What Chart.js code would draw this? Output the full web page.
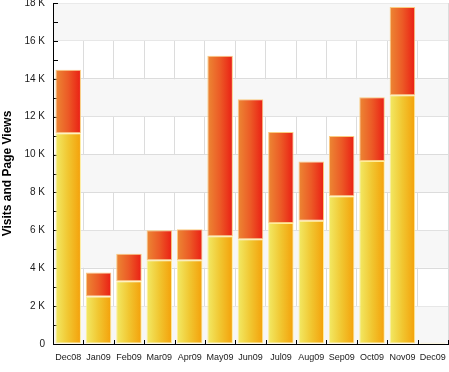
<!DOCTYPE html>
<html>
<head>
<meta charset="utf-8">
<script src="https://cdn.jsdelivr.net/npm/chart.js@4.4.1/dist/chart.umd.min.js"></script>
<style>
  html, body { margin:0; padding:0; background:#fff; }
  #wrap { width:449px; height:372px; position:relative; }
</style>
</head>
<body>
<div id="wrap"><canvas id="chart"></canvas></div>
<script>
// months on the x axis
const months = ['Dec08','Jan09','Feb09','Mar09','Apr09','May09','Jun09','Jul09','Aug09','Sep09','Oct09','Nov09','Dec09'];
// lower (yellow) segment
const visits = [11120, 2510, 3310, 4420, 4420, 5690, 5530, 6390, 6500, 7800, 9660, 13130, 60];
// upper (red) segment stacked on top
const pageViews = [3350, 1260, 1460, 1580, 1640, 9520, 7390, 4800, 3140, 3180, 3370, 4660, 0];
const yTicks = [0, 2000, 4000, 6000, 8000, 10000, 12000, 14000, 16000, 18000];

const ink = '#1a1a1a', grid = '#dcdcdc', band = '#f7f7f7';
const BAR_PCT = 0.84;

// horizontal gradient per bar, built from the x scale
function barGrad(c0, c1, c2, fallback){
  return c => {
    const ch = c.chart, x = ch.scales.x;
    if (!x || !ch.chartArea) return fallback;
    const cx = x.getPixelForValue(c.dataIndex);
    const w = x.width / months.length * BAR_PCT;
    const g = ch.ctx.createLinearGradient(cx - w/2, 0, cx + w/2, 0);
    g.addColorStop(0, c0); g.addColorStop(0.5, c1); g.addColorStop(1, c2);
    return g;
  };
}

// alternating bands + inward ticks
const decor = {
  id:'decor',
  beforeDatasetsDraw(chart){
    const {ctx, chartArea:a, scales:{x, y}} = chart;
    ctx.save();
    // bands
    for (let i = 0; i < yTicks.length - 1; i++){
      if (i % 2) continue;
      const top = y.getPixelForValue(yTicks[i+1]), bot = y.getPixelForValue(yTicks[i]);
      ctx.fillStyle = band;
      ctx.fillRect(a.left + 1, top + 0.5, a.right - a.left - 1, bot - top - 1);
    }
    ctx.strokeStyle = '#000'; ctx.lineWidth = 1;
    ctx.beginPath();
    // y ticks every 1K, pointing inward
    for (let v = 0; v <= 18000; v += 1000){
      const py = Math.round(y.getPixelForValue(v)) + 0.5;
      ctx.moveTo(a.left, py); ctx.lineTo(a.left + 5, py);
    }
    // x ticks on category boundaries, pointing up
    const step = (a.right - a.left) / months.length;
    for (let i = 1; i <= months.length; i++){
      const px = Math.round(x.getPixelForValue(i - 1) + step/2) + 0.5;
      ctx.moveTo(px, a.bottom); ctx.lineTo(px, a.bottom - 4);
    }
    ctx.stroke();
    ctx.restore();
  }
};

new Chart(document.getElementById('chart'), {
  type:'bar',
  data:{
    labels: months,
    datasets:[
      { label:'Visits', data: visits,
        backgroundColor: barGrad('#f2ea66', '#f1c630', '#f4a00a', '#f1c630'),
        borderColor:'rgba(255,236,150,0.95)', borderWidth:1, borderSkipped:false },
      { label:'Page Views', data: pageViews,
        backgroundColor: barGrad('#ec8834', '#ec5a26', '#ea1e14', '#ec5a26'),
        borderColor:'rgba(250,200,120,0.95)', borderWidth:1, borderSkipped:false }
    ]
  },
  options:{
    responsive:true, maintainAspectRatio:false, animation:false,
    categoryPercentage:1, barPercentage:BAR_PCT,
    layout:{ padding:{ top:3, right:1, left:0, bottom:0 } },
    plugins:{ legend:{display:false}, tooltip:{enabled:false} },
    scales:{
      x:{ stacked:true, offset:true,
        grid:{ color:grid, offset:true, drawTicks:false },
        border:{ color:'#000', width:1 },
        ticks:{ color:ink, padding:8, maxRotation:0, autoSkip:false,
          font:{ family:"'Liberation Sans', Arial, sans-serif", size:9 } },
        afterFit(s){ s.height = 28; s.paddingLeft = 0; s.paddingRight = 0; }
      },
      y:{ stacked:true, min:0, max:18000,
        afterBuildTicks(s){ s.ticks = yTicks.map(v => ({value:v})); },
        grid:{ color:grid, drawTicks:false },
        border:{ color:'#000', width:1 },
        ticks:{ color:ink, padding:8,
          callback: v => v === 0 ? '0' : (v/1000) + ' K',
          font:{ family:"'Liberation Sans', Arial, sans-serif", size:10 } },
        title:{ display:true, text:'Visits and Page Views', color:'#000', padding:{top:0,bottom:0},
          font:{ family:"'Liberation Sans', Arial, sans-serif", size:12, weight:'bold' } },
        afterFit(s){ s.width = 53; s.paddingTop = 0; s.paddingBottom = 0; }
      }
    }
  },
  plugins:[decor]
});
</script>
</body>
</html>
